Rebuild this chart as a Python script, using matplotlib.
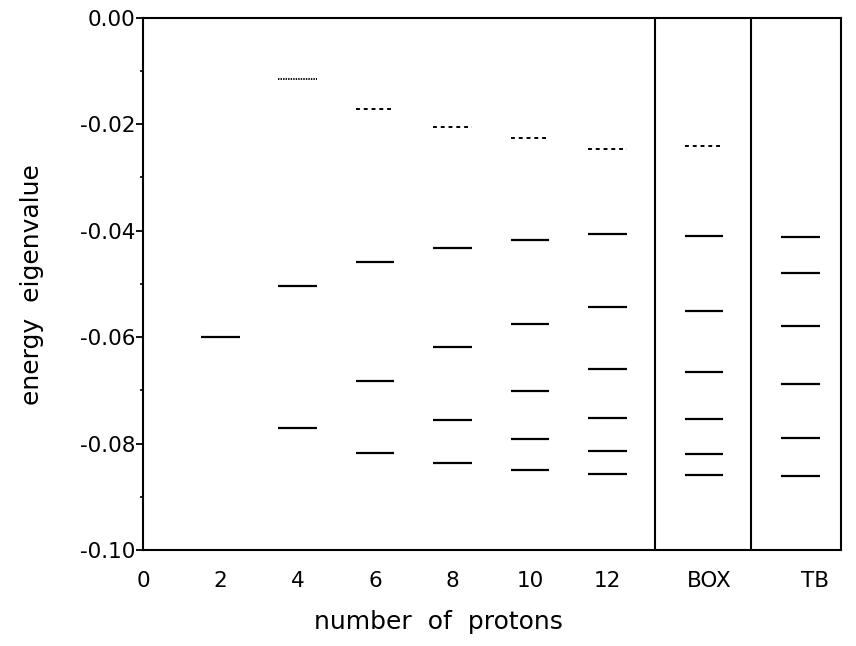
import matplotlib
matplotlib.use("Agg")
from matplotlib import pyplot as plt
import numpy as np

plt.rcParams["font.family"] = ["DejaVu Sans"]
plt.rcParams["axes.unicode_minus"] = False

# energy levels
protons = [2, 4, 6, 8, 10, 12]
bound_2 = [-0.0600]
bound_4 = [-0.0504, -0.0771]
bound_6 = [-0.0460, -0.0682, -0.0818]
bound_8 = [-0.0433, -0.0619, -0.0756, -0.0837]
bound_10 = [-0.0418, -0.0575, -0.0701, -0.0792, -0.0850]
bound_12 = [-0.0407, -0.0544, -0.0661, -0.0752, -0.0815, -0.0857]
box_levels = [-0.0410, -0.0551, -0.0666, -0.0754, -0.0820, -0.0859]
tb_levels = [-0.0412, -0.0479, -0.0580, -0.0689, -0.0790, -0.0861]

# weakly bound levels (dotted)
upper_protons = [4, 6, 8, 10, 12]
upper_levels = [-0.0116, -0.0172, -0.0205, -0.0227, -0.0246]
box_upper = [-0.0241]

x_ticks = [0, 2, 4, 6, 8, 10, 12]
x_ticklabels = ["0", "2", "4", "6", "8", "10", "12"]

# layout of the two extra panels
box_x, tb_x = 14.5, 17.0
box_label_x, tb_label_x = 14.63, 17.37
sep1, sep2, x_right = 13.24, 15.72, 18.04
half = 0.5

fig = plt.figure(figsize=(8.56, 6.46), dpi=100)
ax = fig.add_axes([0.167, 0.1486, 0.8155, 0.8243])

bound = [bound_2, bound_4, bound_6, bound_8, bound_10, bound_12]
for n, lev in zip(protons, bound):
    ax.hlines(lev, n - half, n + half, colors="black", linewidth=1.6)
ax.hlines(box_levels, box_x - half, box_x + half, colors="black", linewidth=1.6)
ax.hlines(tb_levels, tb_x - half, tb_x + half, colors="black", linewidth=1.6)

for n, lev in zip(upper_protons, upper_levels):
    if n == 4:
        ax.hlines(lev, n - half, n + half, colors="black", linewidth=1.3,
                  linestyles=(0, (0.8, 0.6)))
    else:
        ax.hlines(lev, n - half, n + half, colors="black", linewidth=1.4,
                  linestyles=(0, (2.0, 2.0)))
ax.hlines(box_upper, box_x - half, box_x + half, colors="black", linewidth=1.4,
          linestyles=(0, (2.0, 2.0)))

ax.axvline(sep1, color="black", linewidth=1.5)
ax.axvline(sep2, color="black", linewidth=1.5)

ax.set_xlim(0, x_right)
ax.set_ylim(-0.10, 0.0)
for s in ax.spines.values():
    s.set_linewidth(1.5)

ax.set_xticks(x_ticks + [box_label_x, tb_label_x])
ax.set_xticklabels(x_ticklabels + ["BOX", "TB"])
ax.tick_params(axis="x", length=0, pad=15, labelsize=15.5)

ax.set_yticks(np.arange(-0.10, 0.001, 0.02))
ax.set_yticklabels(["-0.10", "-0.08", "-0.06", "-0.04", "-0.02", "0.00"])
ax.set_yticks(np.arange(-0.09, 0.0, 0.02), minor=True)
ax.tick_params(axis="y", which="major", direction="out", length=5, width=1.3,
               pad=0.5, labelsize=15.5)
ax.tick_params(axis="y", which="minor", direction="out", length=2.5, width=1.2)

fig.text(0.512, 0.037, "number  of  protons", ha="center", va="center", fontsize=18)
fig.text(0.037, 0.559, "energy  eigenvalue", ha="center", va="center",
         rotation=90, fontsize=18)

plt.savefig("out.png", dpi=100)
plt.close()
